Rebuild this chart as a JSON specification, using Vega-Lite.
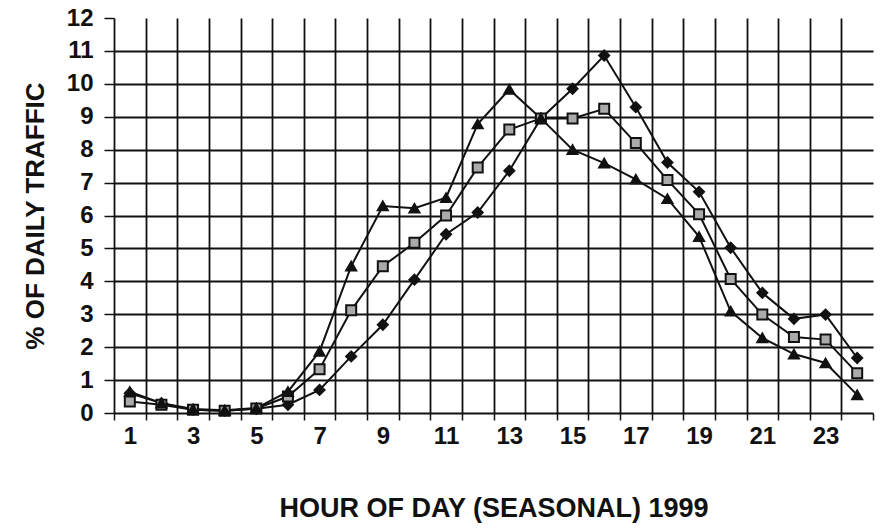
{
  "$schema": "https://vega.github.io/schema/vega-lite/v6.json",
  "autosize": "none",
  "width": 759,
  "height": 395,
  "padding": {"left": 114, "top": 18, "right": 7, "bottom": 115},
  "background": "white",
  "view": {"stroke": null},
  "config": {
    "font": "Liberation Sans",
    "axis": {"labelFont": "Liberation Sans", "titleFont": "Liberation Sans", "labelColor": "#111", "titleColor": "#111"}
  },
  "data": {
    "values": [
      {"hour": 1, "series": "A", "pct": 0.6}, {"hour": 1, "series": "B", "pct": 0.35}, {"hour": 1, "series": "C", "pct": 0.65},
      {"hour": 2, "series": "A", "pct": 0.3}, {"hour": 2, "series": "B", "pct": 0.25}, {"hour": 2, "series": "C", "pct": 0.3},
      {"hour": 3, "series": "A", "pct": 0.1}, {"hour": 3, "series": "B", "pct": 0.1}, {"hour": 3, "series": "C", "pct": 0.12},
      {"hour": 4, "series": "A", "pct": 0.07}, {"hour": 4, "series": "B", "pct": 0.07}, {"hour": 4, "series": "C", "pct": 0.08},
      {"hour": 5, "series": "A", "pct": 0.13}, {"hour": 5, "series": "B", "pct": 0.14}, {"hour": 5, "series": "C", "pct": 0.15},
      {"hour": 6, "series": "A", "pct": 0.25}, {"hour": 6, "series": "B", "pct": 0.5}, {"hour": 6, "series": "C", "pct": 0.65},
      {"hour": 7, "series": "A", "pct": 0.7}, {"hour": 7, "series": "B", "pct": 1.33}, {"hour": 7, "series": "C", "pct": 1.87},
      {"hour": 8, "series": "A", "pct": 1.72}, {"hour": 8, "series": "B", "pct": 3.12}, {"hour": 8, "series": "C", "pct": 4.46},
      {"hour": 9, "series": "A", "pct": 2.68}, {"hour": 9, "series": "B", "pct": 4.46}, {"hour": 9, "series": "C", "pct": 6.29},
      {"hour": 10, "series": "A", "pct": 4.05}, {"hour": 10, "series": "B", "pct": 5.17}, {"hour": 10, "series": "C", "pct": 6.22},
      {"hour": 11, "series": "A", "pct": 5.43}, {"hour": 11, "series": "B", "pct": 6.0}, {"hour": 11, "series": "C", "pct": 6.54},
      {"hour": 12, "series": "A", "pct": 6.09}, {"hour": 12, "series": "B", "pct": 7.46}, {"hour": 12, "series": "C", "pct": 8.78},
      {"hour": 13, "series": "A", "pct": 7.36}, {"hour": 13, "series": "B", "pct": 8.61}, {"hour": 13, "series": "C", "pct": 9.83},
      {"hour": 14, "series": "A", "pct": 8.95}, {"hour": 14, "series": "B", "pct": 8.95}, {"hour": 14, "series": "C", "pct": 8.95},
      {"hour": 15, "series": "A", "pct": 9.85}, {"hour": 15, "series": "B", "pct": 8.95}, {"hour": 15, "series": "C", "pct": 8.0},
      {"hour": 16, "series": "A", "pct": 10.86}, {"hour": 16, "series": "B", "pct": 9.24}, {"hour": 16, "series": "C", "pct": 7.59},
      {"hour": 17, "series": "A", "pct": 9.29}, {"hour": 17, "series": "B", "pct": 8.2}, {"hour": 17, "series": "C", "pct": 7.1},
      {"hour": 18, "series": "A", "pct": 7.61}, {"hour": 18, "series": "B", "pct": 7.08}, {"hour": 18, "series": "C", "pct": 6.51},
      {"hour": 19, "series": "A", "pct": 6.72}, {"hour": 19, "series": "B", "pct": 6.04}, {"hour": 19, "series": "C", "pct": 5.36},
      {"hour": 20, "series": "A", "pct": 5.02}, {"hour": 20, "series": "B", "pct": 4.07}, {"hour": 20, "series": "C", "pct": 3.09},
      {"hour": 21, "series": "A", "pct": 3.65}, {"hour": 21, "series": "B", "pct": 2.99}, {"hour": 21, "series": "C", "pct": 2.28},
      {"hour": 22, "series": "A", "pct": 2.86}, {"hour": 22, "series": "B", "pct": 2.31}, {"hour": 22, "series": "C", "pct": 1.79},
      {"hour": 23, "series": "A", "pct": 2.99}, {"hour": 23, "series": "B", "pct": 2.23}, {"hour": 23, "series": "C", "pct": 1.52},
      {"hour": 24, "series": "A", "pct": 1.67}, {"hour": 24, "series": "B", "pct": 1.21}, {"hour": 24, "series": "C", "pct": 0.55}
    ]
  },
  "encoding": {
    "x": {
      "field": "hour", "type": "quantitative",
      "scale": {"domain": [0.5, 24.5], "nice": false, "zero": false},
      "axis": {
        "title": "HOUR OF DAY (SEASONAL) 1999",
        "values": [0.5,1.5,2.5,3.5,4.5,5.5,6.5,7.5,8.5,9.5,10.5,11.5,12.5,13.5,14.5,15.5,16.5,17.5,18.5,19.5,20.5,21.5,22.5,23.5,24.5],
        "labelExpr": "floor(datum.value) % 2 == 0 && datum.value < 24 ? toString(datum.value + 0.5) : ''",
        "labelOffset": 15.8,
        "labelAlign": "center",
        "labelFontSize": 24,
        "labelFontWeight": "bold",
        "labelPadding": 4,
        "labelOverlap": false,
        "labelBound": false,
        "labelFlush": false,
        "tickSize": 7,
        "tickColor": "#111",
        "tickWidth": 1.5,
        "domainColor": "#111",
        "domainWidth": 1.8,
        "grid": true,
        "gridColor": "#111",
        "gridWidth": 1.8,
        "gridOpacity": {"condition": {"test": "datum.value < 1 || datum.value > 24", "value": 0}, "value": 1},
        "titleFontSize": 27,
        "titleFontWeight": "bold",
        "titlePadding": 47
      }
    },
    "y": {
      "field": "pct", "type": "quantitative",
      "scale": {"domain": [0, 12], "nice": false},
      "axis": {
        "title": "% OF DAILY TRAFFIC",
        "values": [0,1,2,3,4,5,6,7,8,9,10,11,12],
        "labelFontSize": 24,
        "labelFontWeight": "bold",
        "labelPadding": 11,
        "tickSize": 10,
        "tickColor": "#111",
        "tickWidth": 1.5,
        "domainColor": "#111",
        "domainWidth": 1.8,
        "grid": true,
        "gridColor": "#111",
        "gridWidth": 1.8,
        "gridOpacity": {"condition": {"test": "datum.value < 0.5 || datum.value > 11.5", "value": 0}, "value": 1},
        "titleFontSize": 26,
        "titleFontWeight": "bold",
        "titlePadding": 18
      }
    },
    "detail": {"field": "series"}
  },
  "layer": [
    {"mark": {"type": "line", "color": "#111", "strokeWidth": 2}},
    {
      "mark": {"type": "point", "filled": false, "strokeWidth": 2, "stroke": "#111", "opacity": 1},
      "encoding": {
        "shape": {"field": "series", "type": "nominal", "scale": {"domain": ["A", "B", "C"], "range": ["diamond", "square", "triangle-up"]}, "legend": null},
        "fill": {"field": "series", "type": "nominal", "scale": {"domain": ["A", "B", "C"], "range": ["#111", "#aaa", "#111"]}, "legend": null},
        "size": {"value": 100}
      }
    }
  ]
}
